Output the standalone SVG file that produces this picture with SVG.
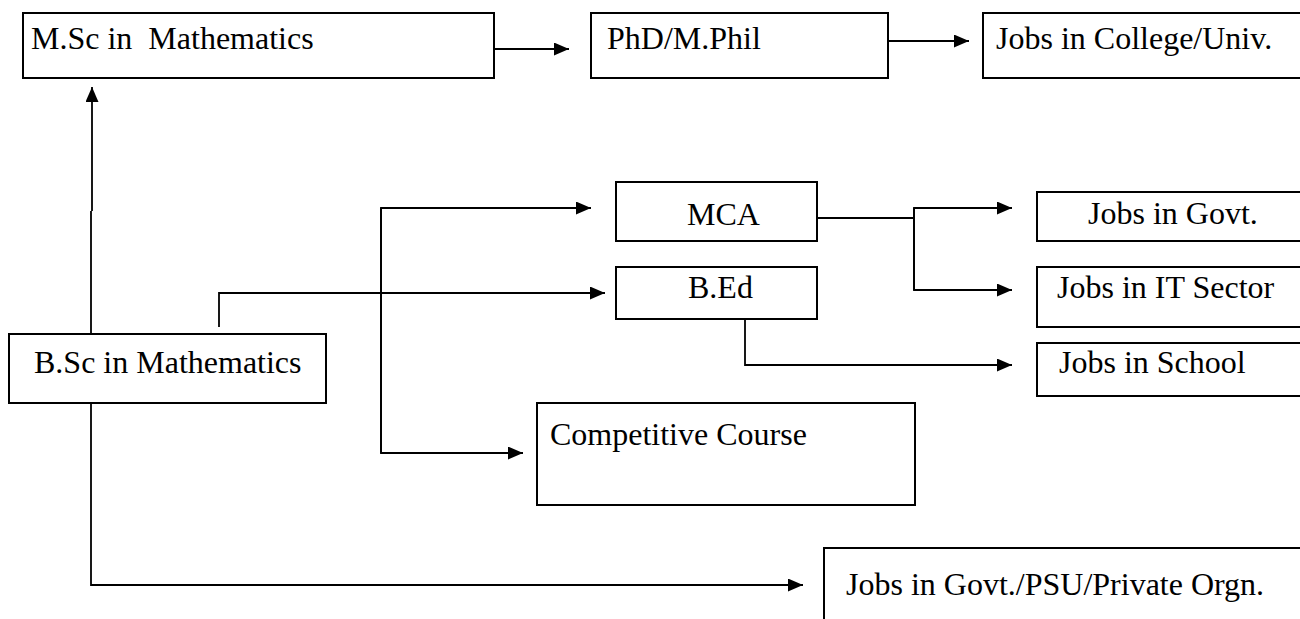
<svg xmlns="http://www.w3.org/2000/svg" width="1300" height="619" viewBox="0 0 1300 619">
<defs>
<style>
.box{fill:#fff;stroke:#000;stroke-width:2}
.lbl{font-family:"Liberation Serif","Times New Roman",serif;font-size:32px;fill:#000;white-space:pre}
.con{fill:none;stroke:#000;stroke-width:1.8}
</style>
<marker id="ah" viewBox="0 0 15 13" refX="15" refY="6.5" markerWidth="15" markerHeight="13" markerUnits="userSpaceOnUse" orient="auto">
<path d="M0,0 L15,6.5 L0,13 Z" fill="#000"/>
</marker>
</defs>
<rect width="1300" height="619" fill="#fff"/>
<g id="connectors">
<path class="con" d="M494,49 H569" marker-end="url(#ah)"/>
<path class="con" d="M888,41 H969" marker-end="url(#ah)"/>
<path class="con" d="M91,334 V211 M92,211 V87" marker-end="url(#ah)"/>
<path class="con" d="M219,327 V293 H605" marker-end="url(#ah)"/>
<path class="con" d="M381,453 V208 H591" marker-end="url(#ah)"/>
<path class="con" d="M381,208 V453 H523" marker-end="url(#ah)"/>
<path class="con" d="M817,218 H914"/>
<path class="con" d="M914,290 V208 H1012" marker-end="url(#ah)"/>
<path class="con" d="M914,208 V290 H1012" marker-end="url(#ah)"/>
<path class="con" d="M745,319 V365 H1012" marker-end="url(#ah)"/>
<path class="con" d="M91,403 V585 H803" marker-end="url(#ah)"/>
</g>
<g id="msc"><rect class="box" x="23" y="13" width="471" height="65"/><text class="lbl" x="31" y="49">M.Sc in  Mathematics</text></g>
<g id="phd"><rect class="box" x="591" y="13" width="297" height="65"/><text class="lbl" x="607" y="49">PhD/M.Phil</text></g>
<g id="jobs-college"><rect class="box" x="983" y="13" width="340" height="65"/><text class="lbl" x="996" y="49">Jobs in College/Univ.</text></g>
<g id="mca"><rect class="box" x="616" y="182" width="201" height="59"/><text class="lbl" x="687" y="225">MCA</text></g>
<g id="bed"><rect class="box" x="616" y="267" width="201" height="52"/><text class="lbl" x="688" y="298">B.Ed</text></g>
<g id="jobs-govt"><rect class="box" x="1037" y="192" width="290" height="49"/><text class="lbl" x="1088" y="224">Jobs in Govt.</text></g>
<g id="jobs-it"><rect class="box" x="1037" y="267" width="290" height="60"/><text class="lbl" x="1057" y="298">Jobs in IT Sector</text></g>
<g id="jobs-school"><rect class="box" x="1037" y="343" width="290" height="53"/><text class="lbl" x="1059" y="373">Jobs in School</text></g>
<g id="bsc"><rect class="box" x="9" y="334" width="317" height="69"/><text class="lbl" x="34" y="373">B.Sc in Mathematics</text></g>
<g id="competitive"><rect class="box" x="537" y="403" width="378" height="102"/><text class="lbl" x="550" y="445">Competitive Course</text></g>
<g id="jobs-psu"><rect class="box" x="824" y="548" width="500" height="100"/><text class="lbl" x="846" y="595">Jobs in Govt./PSU/Private Orgn.</text></g>
</svg>
